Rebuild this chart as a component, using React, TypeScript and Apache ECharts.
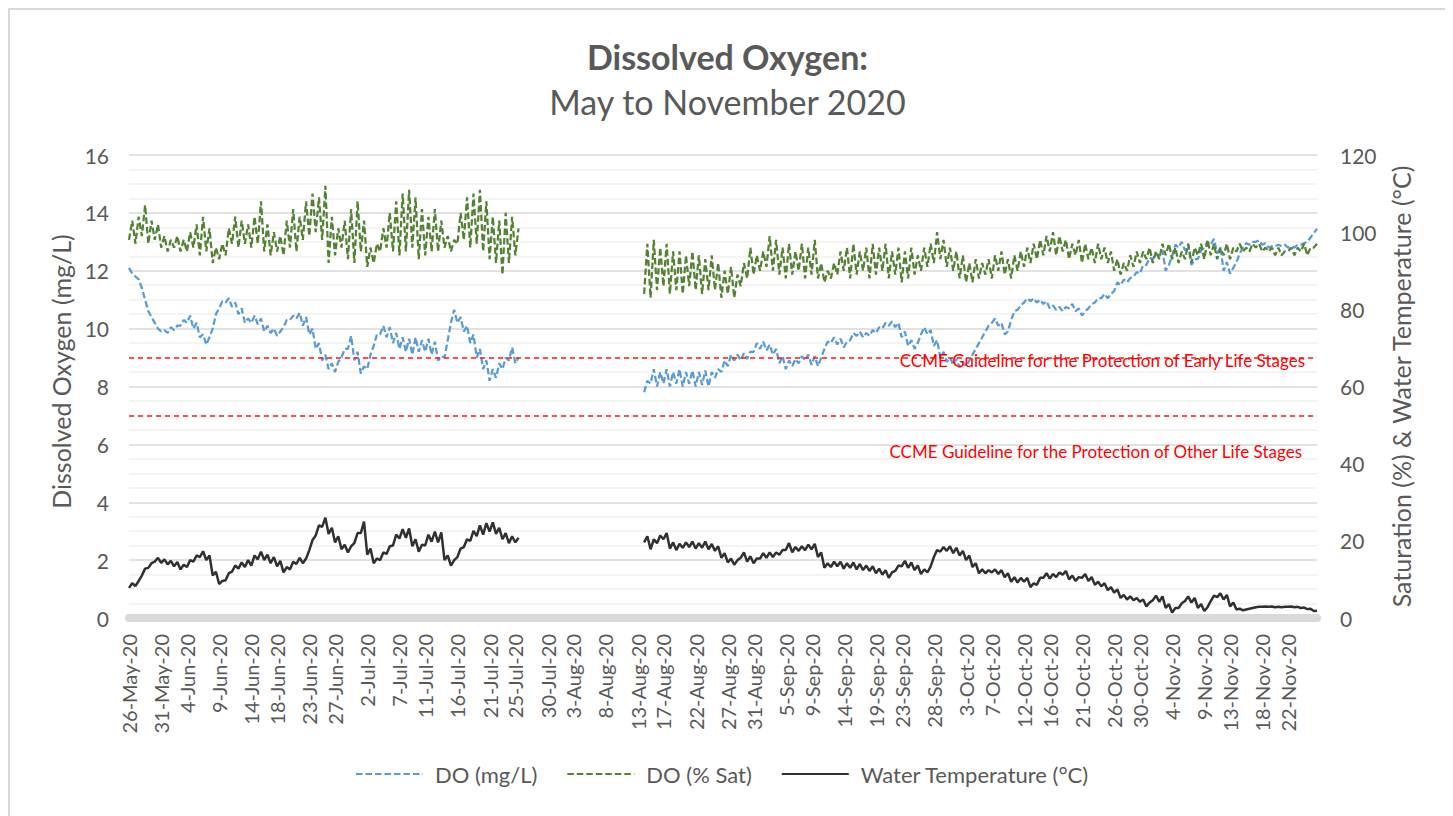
import { useEffect, useRef } from "react";
import * as echarts from "echarts";

// ---------- tick labels shown on the date axis ----------
const tickLabels = [
  "26-May-20", "31-May-20", "4-Jun-20", "9-Jun-20", "14-Jun-20", "18-Jun-20", "23-Jun-20", "27-Jun-20",
  "2-Jul-20", "7-Jul-20", "11-Jul-20", "16-Jul-20", "21-Jul-20", "25-Jul-20", "30-Jul-20", "3-Aug-20",
  "8-Aug-20", "13-Aug-20", "17-Aug-20", "22-Aug-20", "27-Aug-20", "31-Aug-20", "5-Sep-20", "9-Sep-20",
  "14-Sep-20", "19-Sep-20", "23-Sep-20", "28-Sep-20", "3-Oct-20", "7-Oct-20", "12-Oct-20", "16-Oct-20",
  "21-Oct-20", "26-Oct-20", "30-Oct-20", "4-Nov-20", "9-Nov-20", "13-Nov-20", "18-Nov-20", "22-Nov-20",
];
const MONTHS = ["Jan", "Feb", "Mar", "Apr", "May", "Jun", "Jul", "Aug", "Sep", "Oct", "Nov", "Dec"];
const TOTAL_DAYS = 185; // 26-May-20 .. 26-Nov-20, two readings per day (morning, afternoon)
const GAP_DAYS = 19; // 26-Jul .. 13-Aug: no data

// ---------- DO (mg/L): 26-May .. 25-Jul (pairs: morning, afternoon) ----------
const doMgL_A = [
  12.1, 11.9, 11.8, 11.7, 11.4, 11.0, 10.6, 10.4, 10.2, 10.0, 9.9, 9.95, 9.85, 10.05, 9.95, 10.1,
  10.1, 10.3, 10.2, 10.45, 10.0, 10.2, 9.7, 9.8, 9.45, 9.7, 10.0, 10.5, 10.7, 10.95, 10.9, 11.05,
  10.75, 10.9, 10.5, 10.7, 10.2, 10.35, 10.2, 10.45, 10.15, 10.35, 9.9, 10.1, 9.85, 10.0, 9.75, 9.9,
  10.05, 10.3, 10.3, 10.45, 10.35, 10.55, 10.1, 10.4, 9.8, 10.0, 9.3, 9.5, 8.9, 9.1, 8.6, 8.8,
  8.5, 8.85, 9.0, 9.3, 9.3, 9.75, 8.9, 9.2, 8.45, 8.7, 8.6, 9.1, 9.4, 9.8, 9.8, 10.1,
  9.7, 10.05, 9.5, 9.85, 9.3, 9.7, 9.2, 9.65, 9.1, 9.7, 9.2, 9.6, 9.2, 9.65, 9.1, 9.55,
  8.9, 9.05, 9.0, 9.6, 10.2, 10.65, 10.2, 10.4, 9.9, 10.1, 9.5, 9.8, 9.0, 9.3, 8.6, 8.9,
  8.2, 8.6, 8.3, 8.8, 8.6, 9.0, 8.9, 9.35, 8.8, 9.0,
];
// ---------- DO (mg/L): 14-Aug .. 26-Nov ----------
const doMgL_B = [
  7.8, 8.2, 8.1, 8.6, 8.0, 8.5, 8.1, 8.6, 8.0, 8.5, 8.1, 8.6, 8.0, 8.5, 8.1, 8.55,
  8.0, 8.5, 8.05, 8.55, 8.0, 8.5, 8.3, 8.6, 8.5, 8.9, 8.7, 9.1, 8.9, 9.1, 8.9, 9.15,
  8.95, 9.2, 9.2, 9.5, 9.3, 9.55, 9.25, 9.45, 9.1, 9.3, 8.8, 9.05, 8.6, 8.9, 8.7, 8.95,
  8.8, 9.05, 8.9, 9.1, 8.75, 9.05, 8.7, 9.0, 9.3, 9.55, 9.5, 9.7, 9.45, 9.65, 9.35, 9.55,
  9.6, 9.85, 9.75, 9.9, 9.7, 9.85, 9.75, 9.95, 9.85, 10.05, 10.0, 10.2, 10.1, 10.25, 10.05, 10.2,
  9.7, 9.9, 9.4, 9.6, 9.3, 9.5, 9.8, 10.05, 9.8, 9.95, 9.4, 9.6, 9.0, 9.2, 8.85, 9.0,
  8.75, 8.95, 8.65, 8.85, 8.7, 8.9, 9.1, 9.3, 9.5, 9.7, 9.9, 10.1, 10.2, 10.35, 10.1, 10.2,
  9.8, 9.9, 10.3, 10.6, 10.65, 10.8, 10.9, 11.05, 10.95, 11.05, 10.9, 11.0, 10.85, 10.95, 10.7, 10.8,
  10.65, 10.75, 10.6, 10.75, 10.7, 10.85, 10.6, 10.7, 10.45, 10.6, 10.7, 10.85, 10.9, 11.05, 11.05, 11.2,
  11.05, 11.2, 11.3, 11.6, 11.5, 11.7, 11.6, 11.75, 11.8, 11.95, 11.9, 12.2, 12.2, 12.45, 12.4, 12.6,
  12.5, 12.7, 12.0, 12.2, 12.5, 12.9, 12.8, 13.0, 12.7, 12.9, 12.2, 12.4, 12.4, 12.7, 12.8, 13.0,
  12.9, 13.1, 12.6, 12.8, 12.0, 12.3, 11.9, 12.1, 12.3, 12.6, 12.8, 12.95, 12.9, 13.0, 13.0, 13.05,
  12.9, 12.95, 12.8, 12.85, 12.85, 12.9, 12.85, 12.9, 12.8, 12.85, 12.8, 12.9, 12.9, 12.95, 13.0, 13.15,
  13.3, 13.45,
];

// ---------- DO (% Sat): 26-May .. 25-Jul ----------
const doSat_A = [
  98, 103, 97, 104, 99, 107, 97, 103, 98, 102, 96, 99, 95, 98, 96, 99,
  95, 98, 95, 100, 96, 102, 94, 104, 95, 101, 92, 96, 93, 97, 94, 101,
  97, 104, 96, 103, 97, 102, 96, 104, 97, 108, 95, 102, 94, 100, 95, 99,
  94, 103, 96, 106, 95, 104, 98, 108, 99, 110, 100, 109, 98, 112, 92, 104,
  94, 101, 96, 103, 93, 106, 92, 108, 95, 103, 91, 96, 92, 97, 95, 101,
  96, 105, 95, 108, 94, 110, 95, 111, 96, 109, 93, 106, 94, 104, 95, 106,
  95, 103, 96, 99, 95, 98, 97, 105, 98, 109, 96, 110, 97, 111, 95, 108,
  93, 104, 92, 103, 89, 105, 92, 104, 94, 101,
];
// ---------- DO (% Sat): 14-Aug .. 26-Nov ----------
const doSat_B = [
  84, 97, 83, 98, 85, 96, 86, 97, 84, 95, 85, 95, 84, 94, 86, 95,
  85, 94, 84, 93, 85, 94, 85, 92, 83, 90, 84, 91, 83, 89, 86, 92,
  88, 96, 89, 94, 90, 95, 91, 99, 90, 98, 89, 96, 88, 97, 89, 95,
  90, 97, 88, 96, 89, 98, 88, 92, 87, 90, 88, 92, 89, 95, 90, 96,
  88, 97, 89, 95, 90, 96, 88, 97, 89, 96, 90, 97, 88, 95, 89, 96,
  87, 95, 88, 96, 89, 94, 90, 96, 91, 97, 92, 100, 93, 98, 91, 96,
  90, 95, 88, 94, 87, 92, 87, 93, 88, 92, 89, 93, 88, 94, 90, 95,
  89, 93, 88, 94, 90, 95, 91, 96, 92, 97, 93, 98, 94, 99, 95, 100,
  94, 99, 95, 98, 93, 97, 94, 98, 92, 97, 93, 96, 92, 97, 93, 96,
  92, 95, 90, 93, 89, 92, 90, 94, 91, 95, 92, 95, 93, 96, 92, 95,
  93, 97, 94, 97, 93, 96, 92, 95, 93, 97, 92, 96, 94, 97, 93, 98,
  94, 97, 93, 96, 94, 97, 93, 96, 95, 97, 95, 96, 95, 97, 96, 97,
  95, 96, 95, 96, 94, 96, 94, 95, 95, 96, 94, 96, 95, 97, 94, 96,
  96, 97,
];

// ---------- Water temperature (°C): 26-May .. 25-Jul ----------
const temp_A = [
  7.8, 9.0, 8.3, 9.6, 11.0, 12.8, 13.0, 14.2, 14.6, 15.6, 14.3, 15.2, 13.9, 14.8, 13.4, 14.5,
  12.6, 13.8, 13.2, 15.0, 14.6, 16.2, 15.8, 17.3, 15.0, 16.2, 11.0, 12.0, 8.8, 9.6, 9.8, 11.6,
  12.0, 13.6, 12.8, 14.4, 13.2, 15.0, 13.6, 16.2, 15.2, 17.2, 15.0, 16.4, 14.2, 15.8, 13.4, 14.8,
  11.8, 13.2, 12.6, 14.6, 14.0, 15.6, 14.2, 15.4, 17.6, 20.2, 21.4, 24.0, 23.6, 26.0, 21.8, 23.4,
  19.6, 21.2, 17.8, 19.0, 17.0, 18.6, 19.4, 22.0, 22.0, 25.0, 16.4, 18.0, 14.2, 15.4, 15.0, 17.0,
  16.6, 18.6, 18.8, 21.6, 20.6, 23.0, 20.8, 23.2, 18.6, 20.4, 17.2, 19.0, 18.8, 21.6, 19.8, 22.4,
  19.6, 22.2, 15.0, 16.2, 13.6, 15.0, 15.8, 18.0, 18.4, 20.4, 20.0, 22.6, 21.2, 24.0, 21.6, 24.6,
  22.4, 24.8, 21.8, 23.4, 20.4, 22.0, 19.4, 21.2, 19.6, 20.8,
];
// ---------- Water temperature (°C): 14-Aug .. 26-Nov ----------
const temp_B = [
  19.6, 21.2, 17.8, 20.4, 19.4, 21.4, 20.4, 22.0, 18.0, 19.6, 17.6, 19.2, 18.2, 19.6, 18.4, 19.8,
  18.0, 19.4, 18.2, 19.8, 17.8, 19.2, 17.4, 18.6, 15.6, 16.8, 14.4, 15.4, 13.8, 15.0, 15.6, 17.0,
  14.6, 16.0, 14.2, 15.4, 15.4, 16.8, 15.6, 17.0, 15.8, 17.0, 16.4, 17.6, 17.6, 19.4, 17.0, 18.4,
  17.4, 18.6, 17.6, 19.0, 17.8, 19.2, 15.8, 17.0, 13.0, 14.2, 13.2, 14.6, 13.4, 14.6, 12.8, 14.2,
  13.0, 14.4, 12.6, 14.0, 12.4, 13.6, 12.2, 13.4, 11.6, 12.8, 11.2, 12.4, 10.4, 11.8, 12.2, 13.6,
  13.4, 14.8, 13.0, 14.4, 12.4, 13.6, 11.4, 12.6, 11.8, 13.4, 15.8, 17.6, 17.2, 18.4, 17.4, 18.6,
  16.8, 18.2, 16.2, 17.4, 15.0, 16.2, 13.2, 14.2, 11.6, 12.6, 11.6, 12.4, 11.8, 12.6, 11.4, 12.4,
  10.6, 11.6, 9.4, 10.6, 9.2, 10.4, 9.4, 10.4, 8.0, 9.0, 8.6, 10.4, 10.4, 11.6, 10.2, 11.4,
  10.6, 11.8, 11.2, 12.2, 10.0, 11.0, 9.6, 10.6, 10.4, 11.4, 9.6, 10.6, 8.6, 9.4, 8.2, 9.0,
  7.2, 8.0, 6.6, 7.4, 5.2, 6.0, 4.8, 5.6, 4.6, 5.2, 4.2, 4.8, 3.0, 4.0, 4.6, 5.8,
  4.2, 5.6, 2.6, 3.6, 1.4, 2.6, 2.6, 3.8, 4.4, 5.6, 4.0, 5.2, 2.6, 3.6, 1.8, 2.8,
  4.4, 5.8, 5.4, 6.4, 4.8, 6.0, 3.0, 4.0, 2.2, 2.4, 2.0, 2.2, 2.4, 2.6, 2.8, 2.9,
  2.9, 3.0, 2.9, 3.0, 2.8, 2.9, 2.8, 2.9, 2.9, 3.0, 2.8, 2.9, 2.6, 2.7, 2.3, 2.4,
  1.8, 1.9,
];

// CCME guidelines (mg/L)
const guidelineEarly = 9;
const guidelineOther = 7;

const FONT = "Lato, 'Open Sans', sans-serif";
const GREY = "#595959";

function buildCategories(): string[] {
  const out: string[] = [];
  for (let d = 0; d < TOTAL_DAYS; d++) {
    const dt = new Date(2020, 4, 26 + d);
    const lbl = `${dt.getDate()}-${MONTHS[dt.getMonth()]}-20`;
    out.push(lbl + "|0", lbl + "|1");
  }
  return out;
}

function joinSegments(a: number[], b: number[]): (number | null)[] {
  const gap: null[] = new Array(GAP_DAYS * 2).fill(null);
  return [...a, ...gap, ...b];
}

export default function App() {
  const ref = useRef<HTMLDivElement>(null);

  useEffect(() => {
    document.body.style.overflow = "hidden";
    const el = ref.current;
    if (!el) return;
    const chart = echarts.init(el, undefined, { renderer: "svg" });
    const categories = buildCategories();
    const labelSet = new Set(tickLabels);

    const gridLeft = 119;
    const gridTop = 145;
    const gridWidth = 1188;
    const gridHeight = 463;

    const option: any = {
      animation: false,
      backgroundColor: "#ffffff",
      textStyle: { fontFamily: FONT },
      title: [
        {
          text: "Dissolved Oxygen:",
          left: "center",
          top: 24,
          textStyle: { fontFamily: FONT, fontSize: 34, fontWeight: "bold", color: GREY },
        },
        {
          text: "May to November 2020",
          left: "center",
          top: 69,
          textStyle: { fontFamily: FONT, fontSize: 34, fontWeight: "normal", color: GREY },
        },
      ],
      legend: {
        left: 340,
        top: 748,
        itemWidth: 67,
        itemHeight: 14,
        itemGap: 29,
        itemStyle: { opacity: 0 },
        textStyle: { fontFamily: FONT, fontSize: 22, color: GREY, padding: [0, 0, 0, 7] },
        data: ["DO (mg/L)", "DO (% Sat)", "Water Temperature (°C)"],
      },
      grid: { left: gridLeft, top: gridTop, width: gridWidth, height: gridHeight, containLabel: false },
      xAxis: {
        type: "category",
        data: categories,
        boundaryGap: false,
        offset: 4,
        axisLine: { show: true, lineStyle: { color: "#d9d9d9", width: 8 } },
        axisTick: { show: false },
        splitLine: { show: false },
        axisLabel: {
          rotate: 90,
          margin: 12,
          fontFamily: FONT,
          fontSize: 20,
          color: GREY,
          interval: (_i: number, v: string) => v.endsWith("|0") && labelSet.has(v.split("|")[0]),
          formatter: (v: string) => v.split("|")[0],
        },
      },
      yAxis: [
        {
          type: "value",
          min: 0,
          max: 16,
          interval: 2,
          name: "Dissolved Oxygen (mg/L)",
          nameLocation: "middle",
          nameRotate: 90,
          nameGap: 54,
          nameTextStyle: { fontFamily: FONT, fontSize: 25, color: GREY, padding: [0, 0, 0, 30] },
          axisLine: { show: false },
          axisTick: { show: false },
          axisLabel: { fontFamily: FONT, fontSize: 21, color: GREY, margin: 20 },
          splitLine: { show: true, lineStyle: { color: "#d9d9d9", width: 1.5 } },
          minorTick: { show: false, splitNumber: 4 },
          minorSplitLine: { show: true, lineStyle: { color: "#f0f0f0", width: 1.5 } },
        },
        {
          type: "value",
          min: 0,
          max: 120,
          interval: 20,
          position: "right",
          name: "Saturation (%) & Water Temperature (°C)",
          nameLocation: "middle",
          nameRotate: 90,
          nameGap: 71,
          nameTextStyle: { fontFamily: FONT, fontSize: 25, color: GREY },
          axisLine: { show: false },
          axisTick: { show: false },
          axisLabel: { fontFamily: FONT, fontSize: 21, color: GREY, margin: 23 },
          splitLine: { show: false },
        },
      ],
      series: [
        {
          name: "DO (mg/L)",
          type: "line",
          yAxisIndex: 0,
          data: joinSegments(doMgL_A, doMgL_B),
          symbol: "none",
          showSymbol: false,
          connectNulls: false,
          lineStyle: { color: "#5b9bd5", width: 2.25, type: [6.5, 3] },
          itemStyle: { color: "#5b9bd5" },
          markLine: {
            silent: true,
            symbol: "none",
            label: { show: false },
            lineStyle: { color: "#ff1a1a", width: 1.5, type: [5, 4] },
            data: [{ yAxis: guidelineEarly }, { yAxis: guidelineOther }],
          },
          z: 2,
        },
        {
          name: "DO (% Sat)",
          type: "line",
          yAxisIndex: 1,
          data: joinSegments(doSat_A, doSat_B),
          symbol: "none",
          showSymbol: false,
          connectNulls: false,
          lineStyle: { color: "#548235", width: 2.25, type: [6.5, 3] },
          itemStyle: { color: "#548235" },
          z: 3,
        },
        {
          name: "Water Temperature (°C)",
          type: "line",
          yAxisIndex: 1,
          data: joinSegments(temp_A, temp_B),
          symbol: "none",
          showSymbol: false,
          connectNulls: false,
          lineStyle: { color: "#303030", width: 2.5 },
          itemStyle: { color: "#303030" },
          z: 4,
        },
      ],
    };
    chart.setOption(option);

    const y9 = chart.convertToPixel({ yAxisIndex: 0 }, guidelineEarly) as number;
    const y7 = chart.convertToPixel({ yAxisIndex: 0 }, guidelineOther) as number;
    const right = gridLeft + gridWidth;
    chart.setOption({
      graphic: [
        {
          type: "text",
          x: right - 12,
          y: y9 + 3,
          style: {
            text: "CCME Guideline for the Protection of Early Life Stages",
            fill: "#ff0000",
            font: `17px ${FONT}`,
            textAlign: "right",
            textVerticalAlign: "middle",
          },
          z: 10,
        },
        {
          type: "text",
          x: right - 15,
          y: y7 + 36,
          style: {
            text: "CCME Guideline for the Protection of Other Life Stages",
            fill: "#ff0000",
            font: `17px ${FONT}`,
            textAlign: "right",
            textVerticalAlign: "middle",
          },
          z: 10,
        },
      ],
    });

    return () => {
      chart.dispose();
    };
  }, []);

  return (
    <div
      style={{
        width: 1439,
        height: 830,
        border: "2px solid #d9d9d9",
        boxSizing: "border-box",
        background: "#ffffff",
      }}
    >
      <div ref={ref} style={{ width: 1435, height: 826 }} />
    </div>
  );
}
